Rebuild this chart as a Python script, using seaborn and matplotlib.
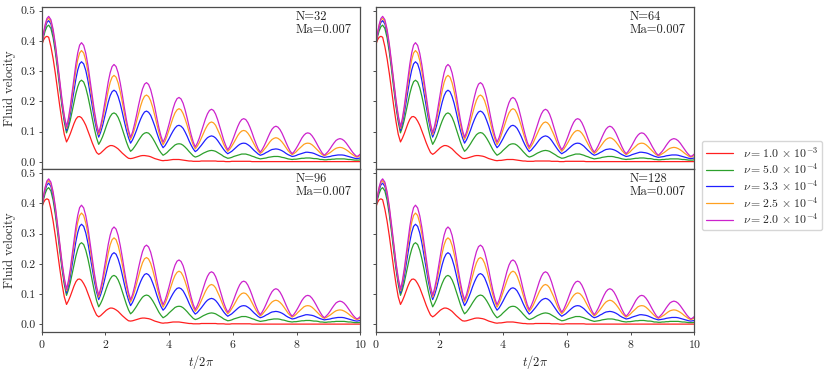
import matplotlib
matplotlib.use('Agg')
import matplotlib.pyplot as plt
import pandas as pd
import seaborn as sns

# t/2pi sample points shared by every curve
t_vals = [0.0, 0.055, 0.11, 0.165, 0.22,
          0.29, 0.36, 0.43, 0.50, 0.57, 0.64, 0.71, 0.78,
          0.839, 0.898, 0.956, 1.015, 1.074, 1.133, 1.191, 1.25,
          1.318, 1.385, 1.453, 1.52, 1.588, 1.655, 1.723, 1.79,
          1.85, 1.91, 1.97, 2.03, 2.09, 2.15, 2.21, 2.27,
          2.335, 2.40, 2.465, 2.53, 2.595, 2.66, 2.725, 2.79,
          2.853, 2.915, 2.978, 3.04, 3.103, 3.165, 3.228, 3.29,
          3.355, 3.42, 3.485, 3.55, 3.615, 3.68, 3.745, 3.81,
          3.873, 3.935, 3.998, 4.06, 4.123, 4.185, 4.248, 4.31,
          4.374, 4.438, 4.501, 4.565, 4.629, 4.693, 4.756, 4.82,
          4.884, 4.948, 5.011, 5.075, 5.139, 5.203, 5.266, 5.33,
          5.394, 5.458, 5.521, 5.585, 5.649, 5.713, 5.776, 5.84,
          5.903, 5.965, 6.028, 6.09, 6.153, 6.215, 6.278, 6.34,
          6.405, 6.47, 6.535, 6.60, 6.665, 6.73, 6.795, 6.86,
          6.921, 6.983, 7.044, 7.105, 7.166, 7.228, 7.289, 7.35,
          7.414, 7.478, 7.541, 7.605, 7.669, 7.733, 7.796, 7.86,
          7.921, 7.983, 8.044, 8.105, 8.166, 8.228, 8.289, 8.35,
          8.415, 8.48, 8.545, 8.61, 8.675, 8.74, 8.805, 8.87,
          8.931, 8.993, 9.054, 9.115, 9.176, 9.238, 9.299, 9.36,
          9.426, 9.493, 9.559, 9.625, 9.691, 9.758, 9.824, 9.89,
          9.945, 10.0]

vel_nu_1e3 = [0.385, 0.402, 0.412, 0.415, 0.412,
              0.381, 0.341, 0.292, 0.237, 0.183, 0.133, 0.091, 0.066,
              0.078, 0.093, 0.110, 0.127, 0.141, 0.149, 0.150, 0.146,
              0.135, 0.121, 0.102, 0.083, 0.063, 0.046, 0.031, 0.025,
              0.029, 0.035, 0.041, 0.047, 0.051, 0.054, 0.054, 0.052,
              0.048, 0.043, 0.036, 0.029, 0.023, 0.017, 0.012, 0.011,
              0.012, 0.014, 0.016, 0.018, 0.020, 0.021, 0.021, 0.020,
              0.019, 0.017, 0.014, 0.011, 0.009, 0.007, 0.005, 0.004,
              0.005, 0.005, 0.006, 0.007, 0.008, 0.008, 0.008, 0.008,
              0.007, 0.006, 0.005, 0.004, 0.003, 0.003, 0.002, 0.002,
              0.002, 0.002, 0.003, 0.003, 0.003, 0.003, 0.003, 0.003,
              0.003, 0.003, 0.002, 0.002, 0.002, 0.002, 0.001, 0.001,
              0.001, 0.002, 0.002, 0.002, 0.002, 0.002, 0.002, 0.002,
              0.002, 0.002, 0.002, 0.001, 0.001, 0.001, 0.001, 0.001,
              0.001, 0.001, 0.001, 0.001, 0.001, 0.001, 0.001, 0.001,
              0.001, 0.001, 0.001, 0.001, 0.001, 0.001, 0.001, 0.001,
              0.001, 0.001, 0.001, 0.001, 0.001, 0.001, 0.001, 0.001,
              0.001, 0.001, 0.001, 0.001, 0.001, 0.001, 0.001, 0.001,
              0.001, 0.001, 0.001, 0.001, 0.001, 0.001, 0.001, 0.001,
              0.001, 0.001, 0.001, 0.001, 0.001, 0.001, 0.001, 0.001,
              0.001, 0.001]

vel_nu_5e4 = [0.385, 0.412, 0.433, 0.447, 0.452,
              0.441, 0.410, 0.362, 0.304, 0.241, 0.182, 0.132, 0.096,
              0.114, 0.138, 0.167, 0.197, 0.226, 0.249, 0.265, 0.270,
              0.264, 0.245, 0.216, 0.182, 0.144, 0.109, 0.079, 0.058,
              0.069, 0.083, 0.100, 0.119, 0.136, 0.150, 0.159, 0.162,
              0.158, 0.147, 0.130, 0.109, 0.087, 0.066, 0.048, 0.035,
              0.041, 0.050, 0.060, 0.071, 0.081, 0.090, 0.095, 0.097,
              0.095, 0.088, 0.078, 0.066, 0.053, 0.040, 0.030, 0.022,
              0.026, 0.031, 0.038, 0.044, 0.050, 0.056, 0.059, 0.060,
              0.059, 0.055, 0.049, 0.042, 0.034, 0.027, 0.020, 0.016,
              0.018, 0.021, 0.025, 0.029, 0.032, 0.035, 0.037, 0.038,
              0.037, 0.035, 0.031, 0.027, 0.023, 0.018, 0.015, 0.012,
              0.013, 0.015, 0.018, 0.020, 0.022, 0.024, 0.026, 0.026,
              0.026, 0.024, 0.022, 0.019, 0.017, 0.014, 0.012, 0.010,
              0.011, 0.012, 0.013, 0.015, 0.016, 0.017, 0.018, 0.018,
              0.018, 0.017, 0.015, 0.014, 0.012, 0.010, 0.009, 0.008,
              0.009, 0.009, 0.010, 0.011, 0.012, 0.012, 0.013, 0.013,
              0.013, 0.012, 0.011, 0.011, 0.010, 0.008, 0.008, 0.007,
              0.007, 0.008, 0.008, 0.009, 0.009, 0.010, 0.010, 0.010,
              0.010, 0.010, 0.009, 0.008, 0.008, 0.007, 0.006, 0.006,
              0.006, 0.007]

vel_nu_33e5 = [0.385, 0.418, 0.444, 0.461, 0.467,
               0.456, 0.424, 0.375, 0.316, 0.252, 0.191, 0.141, 0.104,
               0.127, 0.159, 0.197, 0.236, 0.274, 0.304, 0.324, 0.331,
               0.324, 0.302, 0.268, 0.227, 0.184, 0.142, 0.107, 0.082,
               0.098, 0.119, 0.145, 0.172, 0.198, 0.219, 0.232, 0.237,
               0.232, 0.216, 0.193, 0.164, 0.133, 0.104, 0.080, 0.062,
               0.073, 0.088, 0.105, 0.124, 0.141, 0.155, 0.165, 0.168,
               0.164, 0.154, 0.137, 0.118, 0.096, 0.076, 0.059, 0.047,
               0.054, 0.065, 0.077, 0.090, 0.102, 0.112, 0.119, 0.121,
               0.118, 0.111, 0.099, 0.085, 0.069, 0.055, 0.043, 0.034,
               0.039, 0.047, 0.055, 0.064, 0.073, 0.080, 0.084, 0.086,
               0.084, 0.079, 0.071, 0.061, 0.051, 0.041, 0.033, 0.027,
               0.031, 0.035, 0.041, 0.047, 0.053, 0.058, 0.061, 0.062,
               0.061, 0.057, 0.052, 0.045, 0.038, 0.032, 0.026, 0.022,
               0.024, 0.027, 0.031, 0.034, 0.038, 0.041, 0.042, 0.043,
               0.042, 0.040, 0.037, 0.033, 0.028, 0.024, 0.021, 0.018,
               0.019, 0.021, 0.024, 0.026, 0.028, 0.030, 0.032, 0.032,
               0.031, 0.030, 0.028, 0.025, 0.022, 0.019, 0.017, 0.015,
               0.016, 0.017, 0.018, 0.020, 0.021, 0.022, 0.023, 0.023,
               0.023, 0.022, 0.020, 0.018, 0.016, 0.014, 0.012, 0.011,
               0.012, 0.013]

vel_nu_25e5 = [0.385, 0.421, 0.450, 0.469, 0.475,
               0.464, 0.432, 0.383, 0.323, 0.260, 0.199, 0.148, 0.111,
               0.137, 0.173, 0.216, 0.261, 0.303, 0.338, 0.360, 0.368,
               0.360, 0.335, 0.298, 0.252, 0.203, 0.157, 0.118, 0.090,
               0.110, 0.137, 0.170, 0.204, 0.236, 0.263, 0.280, 0.286,
               0.280, 0.261, 0.232, 0.198, 0.160, 0.125, 0.095, 0.074,
               0.089, 0.109, 0.134, 0.160, 0.184, 0.204, 0.217, 0.221,
               0.216, 0.202, 0.180, 0.153, 0.124, 0.097, 0.074, 0.057,
               0.069, 0.086, 0.106, 0.126, 0.146, 0.162, 0.172, 0.176,
               0.172, 0.160, 0.142, 0.121, 0.097, 0.075, 0.056, 0.043,
               0.052, 0.064, 0.079, 0.095, 0.109, 0.121, 0.129, 0.132,
               0.129, 0.121, 0.107, 0.092, 0.075, 0.058, 0.045, 0.035,
               0.042, 0.052, 0.063, 0.075, 0.087, 0.096, 0.102, 0.104,
               0.102, 0.095, 0.085, 0.072, 0.059, 0.046, 0.036, 0.028,
               0.033, 0.041, 0.049, 0.058, 0.067, 0.074, 0.078, 0.080,
               0.078, 0.073, 0.066, 0.057, 0.047, 0.037, 0.030, 0.024,
               0.028, 0.033, 0.040, 0.046, 0.052, 0.058, 0.061, 0.062,
               0.061, 0.057, 0.051, 0.044, 0.037, 0.030, 0.024, 0.020,
               0.023, 0.027, 0.031, 0.036, 0.041, 0.045, 0.047, 0.048,
               0.047, 0.044, 0.040, 0.035, 0.029, 0.024, 0.019, 0.016,
               0.018, 0.021]

vel_nu_2e4 = [0.385, 0.423, 0.454, 0.474, 0.481,
              0.470, 0.438, 0.389, 0.329, 0.265, 0.204, 0.153, 0.116,
              0.144, 0.183, 0.229, 0.278, 0.324, 0.361, 0.386, 0.394,
              0.385, 0.359, 0.319, 0.270, 0.218, 0.168, 0.126, 0.096,
              0.119, 0.150, 0.188, 0.228, 0.265, 0.295, 0.315, 0.322,
              0.315, 0.294, 0.261, 0.222, 0.179, 0.139, 0.105, 0.081,
              0.099, 0.125, 0.155, 0.187, 0.216, 0.241, 0.257, 0.262,
              0.256, 0.239, 0.212, 0.180, 0.145, 0.112, 0.085, 0.065,
              0.080, 0.101, 0.125, 0.151, 0.176, 0.196, 0.209, 0.213,
              0.208, 0.194, 0.172, 0.145, 0.116, 0.089, 0.066, 0.049,
              0.062, 0.079, 0.100, 0.122, 0.142, 0.159, 0.170, 0.174,
              0.170, 0.158, 0.140, 0.118, 0.095, 0.072, 0.054, 0.040,
              0.050, 0.065, 0.082, 0.100, 0.117, 0.131, 0.140, 0.143,
              0.140, 0.130, 0.115, 0.097, 0.077, 0.059, 0.043, 0.032,
              0.041, 0.053, 0.067, 0.082, 0.096, 0.108, 0.115, 0.118,
              0.115, 0.107, 0.095, 0.080, 0.064, 0.049, 0.036, 0.027,
              0.034, 0.044, 0.055, 0.067, 0.079, 0.088, 0.094, 0.096,
              0.094, 0.087, 0.077, 0.065, 0.052, 0.040, 0.029, 0.022,
              0.028, 0.035, 0.044, 0.054, 0.063, 0.071, 0.075, 0.077,
              0.075, 0.070, 0.062, 0.052, 0.042, 0.032, 0.024, 0.018,
              0.021, 0.026]

nu_labels = [r'$\nu = 1.0\,\times\,10^{-3}$', r'$\nu = 5.0\,\times\,10^{-4}$',
             r'$\nu = 3.3\,\times\,10^{-4}$', r'$\nu = 2.5\,\times\,10^{-4}$',
             r'$\nu = 2.0\,\times\,10^{-4}$']
curves = [vel_nu_1e3, vel_nu_5e4, vel_nu_33e5, vel_nu_25e5, vel_nu_2e4]
colors = ['#ff1f1f', '#2ca02c', '#1f1fff', '#ffa020', '#cc22cc']
grid_N = [32, 64, 96, 128]
mach = 0.007

for c in curves:
    assert len(c) == len(t_vals), len(c)

rows = []
for label, vals in zip(nu_labels, curves):
    for t, v in zip(t_vals, vals):
        rows.append({'t': t, 'v': v, 'nu': label})
df = pd.DataFrame(rows)

sns.set_style('ticks')
plt.rcParams['font.family'] = 'serif'
plt.rcParams['font.serif'] = ['cmr10']
plt.rcParams['mathtext.fontset'] = 'cm'
plt.rcParams['axes.formatter.use_mathtext'] = True
plt.rcParams['axes.unicode_minus'] = False
plt.rcParams['axes.edgecolor'] = '0.3'
plt.rcParams['xtick.color'] = '0.3'
plt.rcParams['ytick.color'] = '0.3'
plt.rcParams['xtick.labelcolor'] = '0.15'
plt.rcParams['ytick.labelcolor'] = '0.15'

fig, axes = plt.subplots(2, 2, figsize=(8.3, 3.71), dpi=100, sharex=True, sharey=True)
fig.subplots_adjust(left=0.0502, right=0.8365, top=0.982, bottom=0.106, wspace=0.048, hspace=0.0)

for ax, N in zip(axes.flat, grid_N):
    sns.lineplot(data=df, x='t', y='v', hue='nu', hue_order=nu_labels, palette=colors,
                 estimator=None, sort=False, linewidth=0.9, legend=False, ax=ax)
    ax.set_xlim(0, 10)
    ax.set_ylim(-0.024, 0.513)
    ax.set_xticks([0, 2, 4, 6, 8, 10])
    ax.set_yticks([0.0, 0.1, 0.2, 0.3, 0.4, 0.5])
    ax.set_xlabel('')
    ax.set_ylabel('')
    ax.tick_params(labelsize=8.5, length=2.5, width=0.7, pad=2)
    for s in ax.spines.values():
        s.set_linewidth(0.9)
    ax.text(0.972, 0.975, f'N={N}\nMa={mach}', transform=ax.transAxes,
            ha='right', va='top', multialignment='left', fontsize=9,
            color='0.15', linespacing=1.1)

for ax in axes[:, 0]:
    ax.set_ylabel('Fluid velocity', fontsize=9, color='0.15', labelpad=3)
for ax in axes[1, :]:
    ax.set_xlabel(r'$t/2\pi$', fontsize=9, color='0.15', labelpad=2)
axes[0, 0].yaxis.set_major_formatter(matplotlib.ticker.FormatStrFormatter('%.1f'))

handles = axes[0, 0].get_lines()[:len(nu_labels)]
fig.legend(handles, nu_labels, loc='center left', bbox_to_anchor=(0.8387, 0.5),
           fontsize=8.5, frameon=True, edgecolor='0.8', fancybox=True,
           handlelength=2.3, labelspacing=0.15, borderpad=0.35)

fig.savefig('out.png', dpi=100)
